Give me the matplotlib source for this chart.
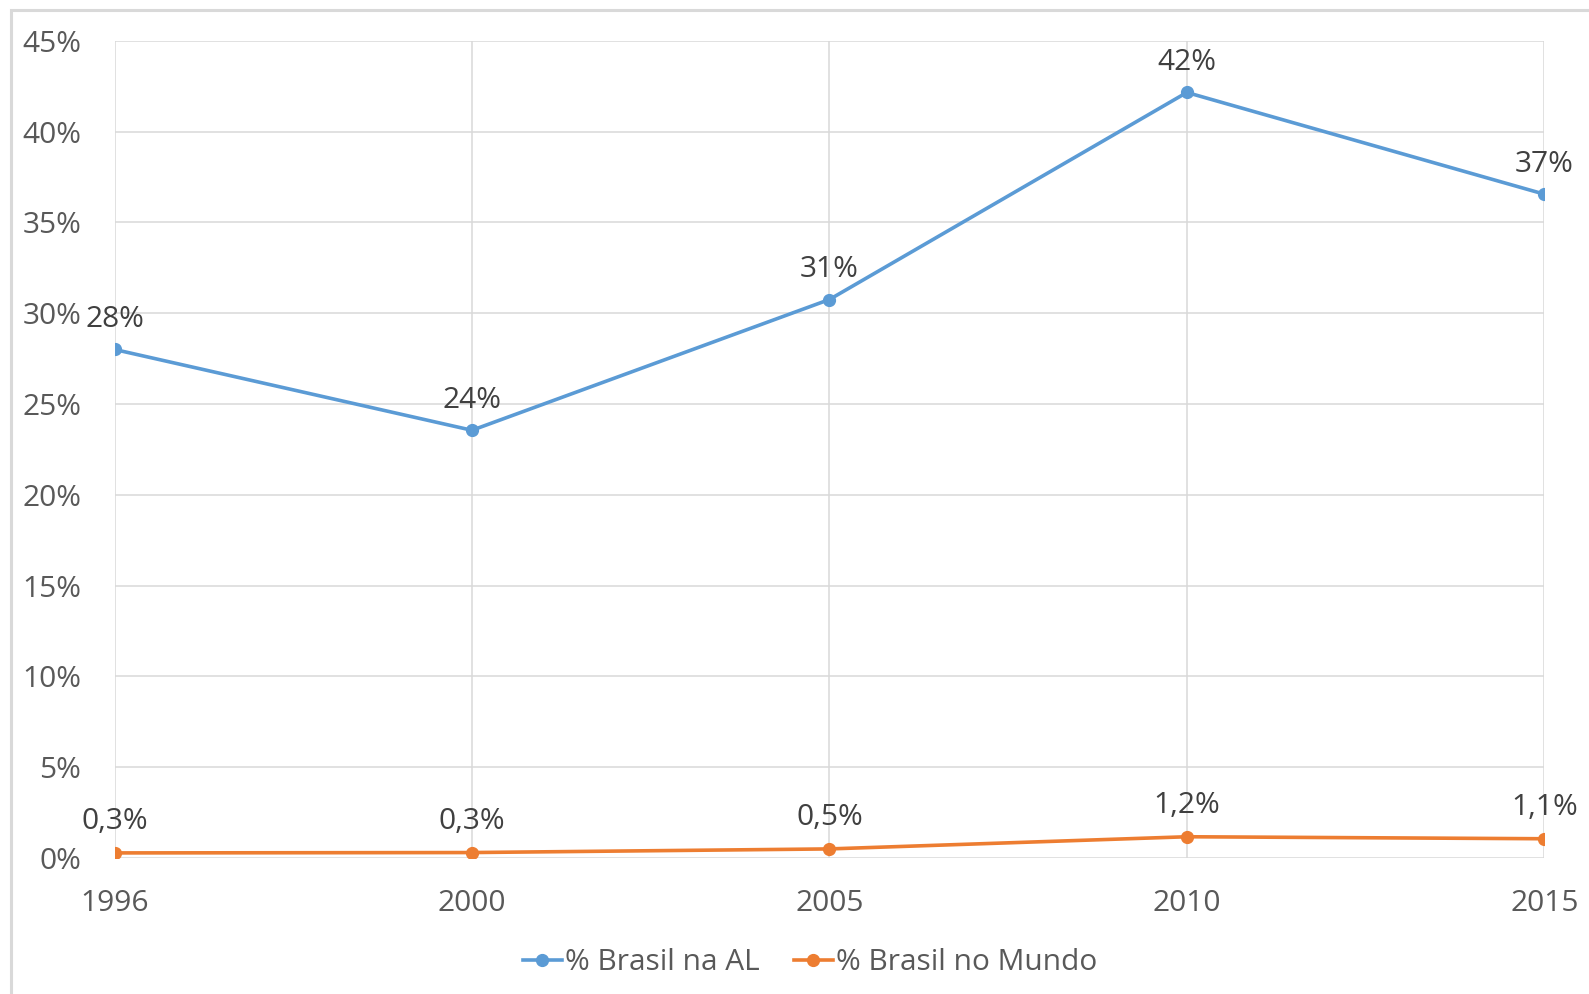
import matplotlib
matplotlib.use("Agg")
import matplotlib.pyplot as plt
from matplotlib.patches import Rectangle

plt.rcParams['font.family'] = ['Open Sans', 'DejaVu Sans']

years = ["1996", "2000", "2005", "2010", "2015"]
brasil_al = [28.0, 23.55, 30.75, 42.15, 36.55]
brasil_mundo = [0.28, 0.30, 0.50, 1.17, 1.06]
yticks = [0, 5, 10, 15, 20, 25, 30, 35, 40, 45]
series_names = ["% Brasil na AL", "% Brasil no Mundo"]

blue = "#5B9BD5"
orange = "#ED7D31"
grid_c = "#D9D9D9"
tick_c = "#595959"
lab_c = "#404040"

fig = plt.figure(figsize=(15.89, 9.94), dpi=100)
fig.patches.append(Rectangle((11/1589, -0.1), 2, 1.1 - 10/994, transform=fig.transFigure,
                             fill=False, edgecolor=grid_c, linewidth=2.2))
ax = fig.add_axes([114.5/1589, 1-858/994, (1544.3-114.5)/1589, (858-40.7)/994])

x = list(range(len(years)))
ax.plot(x, brasil_al, color=blue, lw=2.6, marker='o', ms=8.5, label=series_names[0], zorder=3)
ax.plot(x, brasil_mundo, color=orange, lw=2.6, marker='o', ms=8.5, label=series_names[1], zorder=3)

for xi, v in zip(x, brasil_al):
    ax.annotate(f"{v:.0f}%", (xi, v), xytext=(0, 16), textcoords='offset points',
                ha='center', va='baseline', fontsize=21.5, color=lab_c, zorder=4)
for xi, v in zip(x, brasil_mundo):
    ax.annotate(f"{v:.1f}%".replace('.', ','), (xi, v), xytext=(0, 17), textcoords='offset points',
                ha='center', va='baseline', fontsize=21.5, color=lab_c, zorder=4)

ax.set_xlim(0, len(years)-1)
ax.set_ylim(0, 45)
ax.set_xticks(x)
ax.set_xticklabels(years)
ax.set_yticks(yticks)
ax.set_yticklabels([f"{t}%" for t in yticks])
ax.tick_params(axis='both', length=0, labelsize=21.5, colors=tick_c)
ax.tick_params(axis='y', pad=24)
ax.tick_params(axis='x', pad=22)
ax.grid(True, color=grid_c, lw=1.1)
ax.set_axisbelow(True)
for s in ax.spines.values():
    s.set_visible(False)

leg = fig.legend(loc='center', bbox_to_anchor=(810/1589, 1-963/994), ncol=2, frameon=False,
                 fontsize=21.5, handlelength=1.3, handletextpad=0.1, columnspacing=1.15,
                 markerscale=1.0)
for t in leg.get_texts():
    t.set_color(tick_c)

fig.savefig("out.png", dpi=100)
